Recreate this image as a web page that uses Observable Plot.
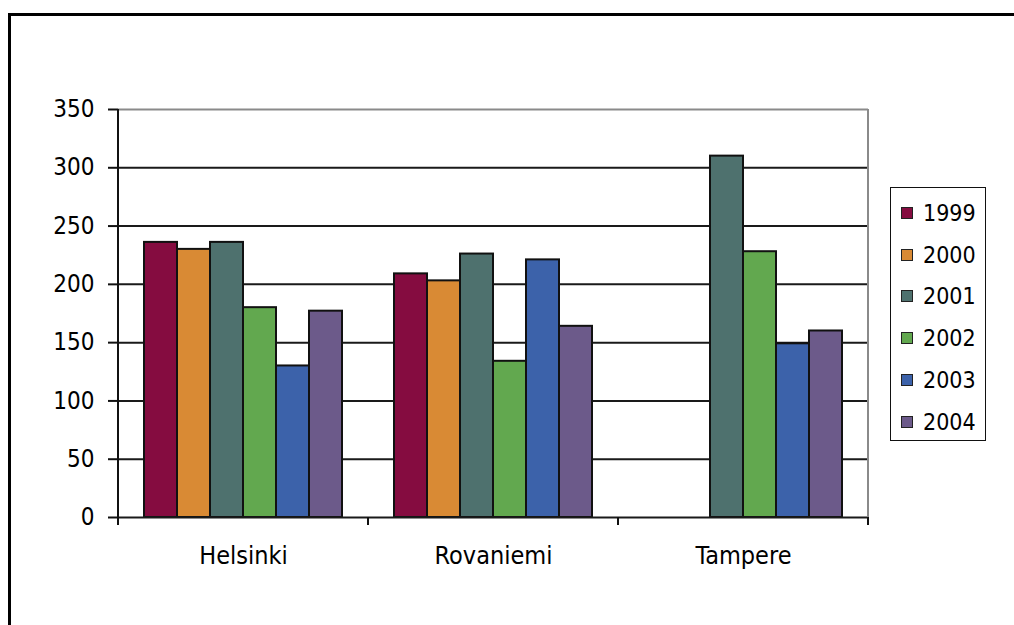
<!DOCTYPE html>
<html>
<head>
<meta charset="utf-8">
<script src="https://cdn.jsdelivr.net/npm/d3@7"></script>
<script src="https://cdn.jsdelivr.net/npm/@observablehq/plot@0.6"></script>
<style>
  html, body { margin: 0; padding: 0; background: #fff; }
  #wrap { position: relative; width: 1014px; height: 625px; overflow: hidden; background: #fff; }
  #outer { position: absolute; left: 8px; top: 13px; width: 2000px; height: 2000px; border-left: 3px solid #000; border-top: 3px solid #000; box-sizing: border-box; }
  #chart { position: absolute; left: 0; top: 0; }
  #chart text { font-stretch: condensed; }
  #legend { position: absolute; left: 890px; top: 187px; width: 96px; height: 254px; border: 1.5px solid #111; box-sizing: border-box; background: #fff;
    font-family: "DejaVu Sans Condensed", "DejaVu Sans", sans-serif; font-stretch: condensed; font-size: 23px; color: #000; }
  .item { position: absolute; left: 10px; height: 30px; display: flex; align-items: center; }
  .sw { width: 12px; height: 12px; border: 1.5px solid #222; box-sizing: border-box; margin-right: 10px; }
</style>
</head>
<body>
<div id="wrap">
  <div id="outer"></div>
  <div id="chart"></div>
  <div id="legend"></div>
</div>
<script>
const cities = ["Helsinki", "Rovaniemi", "Tampere"];
const years = ["1999", "2000", "2001", "2002", "2003", "2004"];
const helsinki = [236, 230, 236, 180, 130, 177];
const rovaniemi = [209, 203, 226, 134, 221, 164];
const tampere = [null, null, 310, 228, 149, 160];
const colors = ["#850c40", "#d98a34", "#4e716e", "#62a84f", "#3c62aa", "#6c5a8a"];
const yTicks = [0, 50, 100, 150, 200, 250, 300, 350];

const series = {Helsinki: helsinki, Rovaniemi: rovaniemi, Tampere: tampere};
const data = [];
for (const c of cities) {
  series[c].forEach((v, i) => { if (v != null) data.push({city: c, year: years[i], value: v}); });
}

const FONT = '"DejaVu Sans Condensed", "DejaVu Sans", sans-serif';

const chart = Plot.plot({
  width: 1014,
  height: 625,
  marginLeft: 117,
  marginRight: 145,
  marginTop: 109,
  marginBottom: 108,
  style: {fontFamily: FONT, fontSize: "24px", color: "#000", background: "transparent", fontStretch: "condensed"},
  fx: {domain: cities, paddingInner: 0, paddingOuter: 0, axis: null, label: null},
  x: {domain: years, paddingInner: 0, paddingOuter: 0.7, axis: null, label: null},
  y: {domain: [0, 350], axis: null, label: null},
  color: {domain: years, range: colors},
  marks: [
    Plot.ruleY(yTicks.filter(d => d > 0 && d < 350), {stroke: "#1a1a1a", strokeWidth: 2}),
    Plot.ruleY([350], {stroke: "#8a8a8a", strokeWidth: 2}),
    Plot.barY(data, {fx: "city", x: "year", y: "value", fill: "year", stroke: "#111", strokeWidth: 2}),
    Plot.ruleY([0], {stroke: "#1a1a1a", strokeWidth: 2}),
    Plot.axisY({ticks: yTicks, tickSize: 10, tickPadding: 14, fontSize: 24, stroke: "#111", strokeWidth: 2, label: null, tickFormat: d => String(d)}),
    Plot.axisFx({anchor: "bottom", tickSize: 0, tickPadding: 29, fontSize: 25, label: null})
  ]
});
document.getElementById("chart").appendChild(chart);

// axis lines and group boundary ticks drawn from the library's scales
const fx = chart.scale("fx");
const y = chart.scale("y");
const svg = d3.select(chart);
const y0 = y.apply(0), yTop = y.apply(350);
const bounds = cities.map(c => fx.apply(c));
bounds.push(fx.apply(cities[cities.length - 1]) + fx.bandwidth);
const g = svg.append("g");
g.append("line").attr("x1", bounds[bounds.length - 1]).attr("x2", bounds[bounds.length - 1])
  .attr("y1", yTop).attr("y2", y0).attr("stroke", "#8a8a8a").attr("stroke-width", 2);
g.append("line").attr("x1", bounds[0]).attr("x2", bounds[0])
  .attr("y1", yTop).attr("y2", y0 + 8).attr("stroke", "#111").attr("stroke-width", 2);
bounds.forEach(b => {
  g.append("line").attr("x1", b).attr("x2", b).attr("y1", y0).attr("y2", y0 + 8)
    .attr("stroke", "#111").attr("stroke-width", 2);
});

// legend
const legend = document.getElementById("legend");
years.forEach((yr, i) => {
  const it = document.createElement("div");
  it.className = "item";
  it.style.top = (10 + i * 41.7) + "px";
  const sw = document.createElement("div");
  sw.className = "sw";
  sw.style.background = colors[i];
  const t = document.createElement("span");
  t.textContent = yr;
  it.appendChild(sw);
  it.appendChild(t);
  legend.appendChild(it);
});
</script>
</body>
</html>
